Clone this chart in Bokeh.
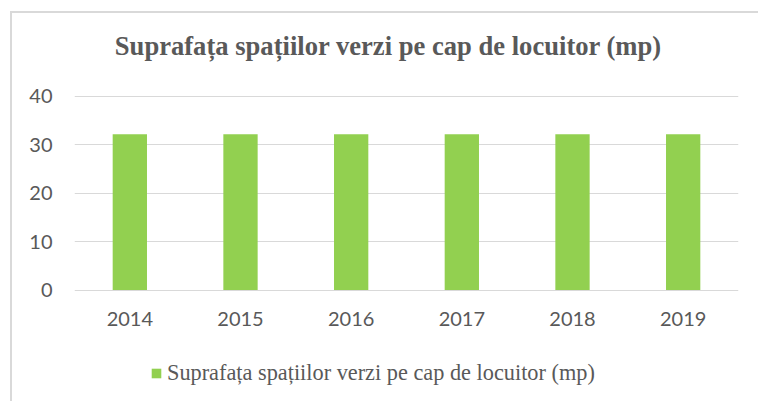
from bokeh.plotting import figure
from bokeh.models import FactorRange, Label
from bokeh.embed import file_html
from bokeh.resources import INLINE

years = ["2014", "2015", "2016", "2017", "2018", "2019"]
values = [32.2, 32.2, 32.2, 32.2, 32.2, 32.2]
title_text = "Suprafața spațiilor verzi pe cap de locuitor (mp)"
series_name = "Suprafața spațiilor verzi pe cap de locuitor (mp)"
y_ticks = [0, 10, 20, 30, 40]

GRAY = "#595959"
GREEN = "#92D050"
GRID = "#D9D9D9"

# the frame spans the full canvas height so the title above and the legend
# below the axis are drawn inside it (annotations are clipped to the frame)
p = figure(
    width=748, height=390,
    x_range=FactorRange(*years, range_padding=0),
    y_range=(-23.45, 57.14),
    output_backend="svg", toolbar_location=None,
    min_border_left=62, min_border_right=22,
    min_border_top=0, min_border_bottom=0,
)
p.styles = {
    "margin-left": "10px", "margin-top": "11px",
    "border-top": "2px solid #D9D9D9", "border-left": "2px solid #D9D9D9",
}
p.outline_line_color = None

r = p.vbar(x=years, top=values, bottom=0, width=0.31, fill_color=GREEN, line_color=None,
           legend_label=series_name)

p.yaxis.ticker = y_ticks
p.ygrid.ticker = y_ticks
p.xgrid.grid_line_color = None
p.ygrid.grid_line_color = GRID
p.ygrid.grid_line_width = 1

p.xaxis.fixed_location = 0

for ax in (p.xaxis[0], p.yaxis[0]):
    ax.axis_line_color = None
    ax.major_tick_line_color = None
    ax.minor_tick_line_color = None
    ax.major_tick_out = 0
    ax.major_tick_in = 0
    ax.major_label_text_font = "Lato"
    ax.major_label_text_font_size = "20px"
    ax.major_label_text_color = GRAY
p.yaxis.major_label_standoff = 22
p.xaxis.major_label_standoff = 22

title = Label(x=2.837, y=50.4, text=title_text,
              text_align="center", text_baseline="alphabetic",
              text_font="Liberation Serif", text_font_style="bold",
              text_font_size="26.6px", text_color=GRAY)
p.add_layout(title)

lg = p.legend[0]
lg.orientation = "vertical"
lg.border_line_color = None
lg.background_fill_alpha = 0
lg.padding = 0
lg.margin = 0
lg.spacing = 0
lg.label_standoff = 5
lg.glyph_width = 12
lg.glyph_height = 12
lg.label_text_font = "Liberation Serif"
lg.label_text_font_size = "22.3px"
lg.label_text_color = GRAY
lg.location = (76, 17)

open("out.html", "w").write(file_html(p, INLINE))
